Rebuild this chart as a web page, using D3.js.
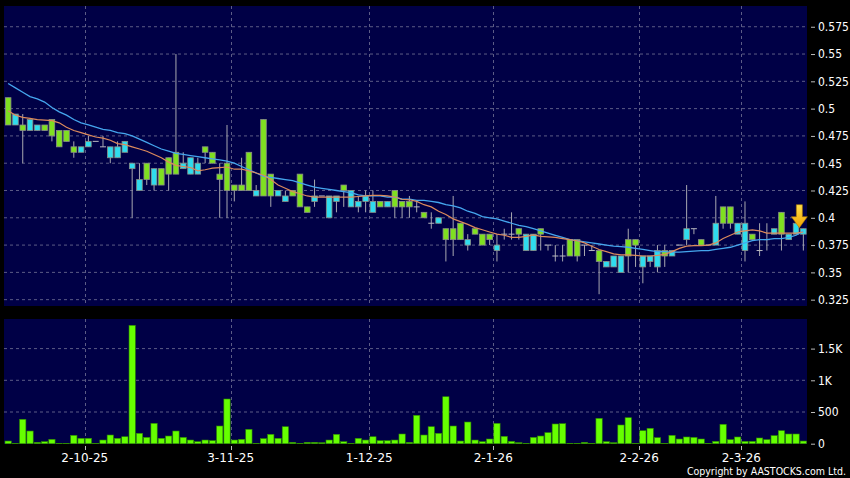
<!DOCTYPE html>
<html>
<head>
<meta charset="utf-8">
<script src="https://cdnjs.cloudflare.com/ajax/libs/d3/7.8.5/d3.min.js"></script>
<style>
body { margin: 0; background: #000; }
text { font-family: 'DejaVu Sans Condensed', 'DejaVu Sans', sans-serif; fill: #fff; }
</style>
</head>
<body>
<script>

// daily candles, oldest first
var opens = [.485,.495,.48,.49,.485,.48,.475,.465,.47,.46,.465,.47,.47,.465,.465,.465,.47,.45,.435,.435,
  .445,.43,.44,.44,.45,.455,.45,.46,.45,.435,.425,.425,.425,.425,.425,.42,.42,.425,.42,.42,
  .41,.405,.42,.42,.42,.42,.425,.425,.415,.42,.415,.41,.415,.41,.41,.41,.41,.40,.395,.40,
  .38,.38,.38,.38,.385,.375,.38,.375,.385,.385,.385,.385,.385,.385,.375,.365,.365,.365,.365,.375,
  .37,.36,.36,.365,.365,.365,.375,.365,.365,.37,.365,.37,.375,.39,.39,.375,.375,.395,.395,.395,
  .395,.395,.38,.37,.38,.39,.385,.385,.395,.39];
var highs = [.51,.495,.495,.49,.485,.485,.49,.48,.48,.47,.465,.475,.47,.475,.465,.47,.47,.45,.45,.45,
  .445,.445,.455,.55,.46,.455,.455,.465,.46,.45,.485,.43,.455,.46,.43,.49,.44,.425,.425,.425,
  .44,.41,.435,.42,.42,.42,.43,.425,.42,.425,.425,.415,.415,.425,.415,.42,.415,.405,.405,.40,
  .39,.42,.395,.385,.39,.385,.385,.385,.39,.405,.39,.385,.385,.39,.375,.375,.375,.38,.38,.375,
  .375,.37,.36,.365,.365,.39,.38,.365,.365,.375,.375,.37,.375,.43,.39,.38,.375,.42,.41,.41,
  .395,.415,.385,.395,.395,.39,.405,.385,.395,.39];
var lows = [.485,.485,.45,.48,.48,.48,.47,.465,.47,.455,.46,.465,.47,.465,.45,.455,.46,.40,.425,.43,
  .425,.43,.425,.44,.445,.44,.44,.45,.45,.40,.40,.415,.425,.425,.42,.42,.41,.42,.415,.42,
  .41,.405,.41,.42,.40,.405,.41,.41,.405,.405,.405,.41,.41,.40,.40,.40,.405,.40,.39,.395,
  .36,.365,.38,.37,.385,.375,.375,.36,.38,.38,.38,.37,.37,.37,.37,.36,.36,.365,.36,.365,
  .37,.33,.355,.355,.35,.35,.355,.34,.355,.35,.355,.365,.375,.375,.385,.375,.375,.375,.39,.39,
  .385,.36,.38,.365,.37,.385,.37,.38,.385,.37];
var closes = [.51,.485,.485,.48,.48,.485,.49,.48,.48,.465,.46,.465,.47,.465,.455,.455,.46,.445,.425,.45,
  .43,.445,.455,.46,.445,.44,.44,.465,.46,.44,.45,.43,.43,.46,.42,.49,.44,.42,.415,.425,
  .44,.41,.415,.42,.40,.415,.43,.41,.41,.415,.405,.415,.41,.425,.415,.415,.41,.405,.395,.395,
  .39,.39,.395,.375,.39,.385,.385,.37,.385,.385,.39,.37,.37,.39,.375,.365,.365,.38,.38,.375,
  .37,.37,.355,.355,.35,.38,.38,.355,.36,.355,.37,.365,.375,.38,.39,.38,.375,.375,.41,.41,
  .385,.37,.385,.37,.38,.385,.405,.38,.385,.385];

// volume in thousands of shares
var volumes = [42,5,385,200,22,32,69,3,3,132,85,85,5,58,137,85,110,1867,164,100,
  321,85,121,200,100,58,32,58,48,279,705,58,69,227,5,80,148,85,268,22,
  5,22,22,16,58,148,32,5,85,58,110,48,48,58,153,22,448,137,268,164,
  741,279,42,342,58,32,74,321,116,37,16,5,100,121,174,311,316,3,3,22,
  5,400,32,16,295,410,3,205,243,95,3,132,74,106,100,74,3,37,306,64,
  106,37,37,90,64,127,205,153,153,42];

// moving averages
var maShort = [.498,.494,.492,.491,.490,.4895,.489,.487,.483,.480,.478,.476,.474,.473,.471,.468,.467,.465,.463,.461,
  .458,.455,.451,.448,.447,.446,.443,.444,.4455,.446,.4465,.4445,.4445,.443,.441,.439,.435,.430,.427,.424,
  .422,.420,.419,.419,.419,.419,.419,.419,.4195,.420,.4205,.4205,.420,.419,.417,.4165,.415,.412,.410,.406,
  .403,.399,.3965,.394,.391,.389,.387,.385,.384,.382,.382,.383,.3843,.383,.3825,.382,.381,.380,.379,.377,
  .374,.371,.369,.367,.366,.366,.3655,.365,.365,.3655,.3665,.369,.372,.374,.3745,.3745,.375,.377,.381,.384,
  .387,.388,.389,.388,.386,.386,.386,.386,.386,.387];
var maLong = [.523,.519,.515,.511,.509,.506,.501,.497,.494,.490,.487,.485,.483,.481,.480,.478,.477,.475,.472,.469,
  .466,.463,.461,.459,.458,.457,.456,.455,.454,.453,.452,.450,.447,.444,.441,.438,.437,.436,.435,.434,
  .432,.430,.428,.427,.426,.425,.424,.423,.421,.420,.420,.420,.419,.419,.417,.417,.416,.416,.415,.414,
  .412,.411,.409,.406,.404,.401,.400,.399,.397,.395,.393,.392,.390,.388,.386,.384,.382,.380,.379,.378,
  .377,.376,.375,.374,.3735,.373,.372,.371,.370,.369,.369,.3685,.3685,.369,.3695,.370,.370,.371,.372,.373,
  .375,.377,.379,.380,.380,.381,.381,.382,.384,.388];

var priceTicks = [0.325,0.35,0.375,0.4,0.425,0.45,0.475,0.5,0.525,0.55,0.575];
var volTicks = [0,500,1000,1500];
var volLabels = ['0','500','1K','1.5K'];
// first bar of each labelled month
var dateIdx = [11,31,50,67,87,101];
var dateLabels = ['2-10-25','3-11-25','1-12-25','2-1-26','2-2-26','2-3-26'];

var navy = '#000046';
var gridColor = '#5c5c86';
var upColor = '#7fe020';
var downColor = '#2fdcee';

var svg = d3.select('body').append('svg')
    .attr('width', 850)
    .attr('height', 478);

var x = d3.scaleBand()
    .domain(d3.range(closes.length))
    .range([4.5, 807]);
var step = x.step();
function cx(i) { return x(i) + step / 2; }

var y = d3.scaleLinear().domain([0.3192, 0.594]).range([306, 6]);
var yv = d3.scaleLinear().domain([0, 1967]).range([443.7, 319]);

// panels
svg.append('rect')
    .attr('x', 4).attr('y', 6)
    .attr('width', 803).attr('height', 300)
    .attr('fill', navy);
svg.append('rect')
    .attr('x', 4).attr('y', 319)
    .attr('width', 803).attr('height', 125)
    .attr('fill', navy);

// horizontal grid
svg.selectAll('.pgrid').data(priceTicks).enter().append('line')
    .attr('x1', 4).attr('x2', 807)
    .attr('y1', function(d){ return y(d); })
    .attr('y2', function(d){ return y(d); })
    .attr('stroke', gridColor)
    .attr('stroke-dasharray', '3,3');
svg.selectAll('.vgrid').data(volTicks.slice(1)).enter().append('line')
    .attr('x1', 4).attr('x2', 807)
    .attr('y1', function(d){ return yv(d); })
    .attr('y2', function(d){ return yv(d); })
    .attr('stroke', gridColor)
    .attr('stroke-dasharray', '3,3');

// vertical grid at month starts, both panels
dateIdx.forEach(function(i){
    var gx = Math.round(x(i)) + 0.5;
    svg.append('line')
        .attr('x1', gx).attr('x2', gx)
        .attr('y1', 6).attr('y2', 306)
        .attr('stroke', gridColor)
        .attr('stroke-dasharray', '3,3');
    svg.append('line')
        .attr('x1', gx).attr('x2', gx)
        .attr('y1', 319).attr('y2', 444)
        .attr('stroke', gridColor)
        .attr('stroke-dasharray', '3,3');
    // tick under volume panel
    svg.append('line')
        .attr('x1', gx).attr('x2', gx)
        .attr('y1', 446).attr('y2', 450)
        .attr('stroke', '#bbb');
});

svg.selectAll('.dlabel').data(dateLabels).enter().append('text')
    .attr('x', function(d, k){ return x(dateIdx[k]); })
    .attr('y', 462)
    .attr('text-anchor', 'middle')
    .attr('font-size', 12)
    .style('font-family', "'DejaVu Sans', sans-serif")
    .text(function(d){ return d; });

// right axes
var pAxis = svg.append('g')
    .attr('transform', 'translate(811,0)')
    .call(d3.axisRight(y).tickValues(priceTicks).tickSize(4).tickPadding(3)
        .tickFormat(function(d){ return String(+d.toFixed(3)); }));
var vAxis = svg.append('g')
    .attr('transform', 'translate(811,0)')
    .call(d3.axisRight(yv).tickValues(volTicks).tickSize(4).tickPadding(3)
        .tickFormat(function(d, k){ return volLabels[k]; }));
[pAxis, vAxis].forEach(function(g){
    g.select('.domain').remove();
    g.selectAll('line').attr('stroke', '#bbb');
    g.selectAll('text')
        .attr('fill', '#fff')
        .attr('font-size', 12)
        .attr('font-family', "'DejaVu Sans Condensed', 'DejaVu Sans', sans-serif");
});

// volume bars
svg.selectAll('.vol').data(volumes).enter().append('rect')
    .attr('x', function(d, i){ return x(i) + 0.5; })
    .attr('y', function(d){ return yv(d); })
    .attr('width', step - 1)
    .attr('height', function(d){ return yv(0) - yv(d); })
    .attr('fill', '#66ff00')
    .attr('stroke', '#2e8a00')
    .attr('stroke-width', 0.6);

// wicks
svg.selectAll('.wick').data(closes).enter().append('line')
    .attr('x1', function(d, i){ return cx(i); })
    .attr('x2', function(d, i){ return cx(i); })
    .attr('y1', function(d, i){ return y(highs[i]); })
    .attr('y2', function(d, i){ return y(lows[i]); })
    .attr('stroke', '#a8a8b0');

// bodies (flat ones are a dash)
closes.forEach(function(c, i){
    var o = opens[i];
    if (o == c) {
        svg.append('line')
            .attr('x1', cx(i) - 3).attr('x2', cx(i) + 3)
            .attr('y1', y(c)).attr('y2', y(c))
            .attr('stroke', '#b8b8c0');
    } else {
        svg.append('rect')
            .attr('x', cx(i) - 2.8)
            .attr('y', y(Math.max(o, c)))
            .attr('width', 5.6)
            .attr('height', Math.abs(y(o) - y(c)))
            .attr('fill', c > o ? upColor : downColor)
            .attr('stroke', '#8a8f86')
            .attr('stroke-width', 0.8);
    }
});

// moving averages
var line = d3.line()
    .x(function(d, i){ return cx(i); })
    .y(function(d){ return y(d); });
svg.append('path')
    .attr('d', line(maLong))
    .attr('fill', 'none')
    .attr('stroke', '#45a6ee')
    .attr('stroke-width', 1.3);
svg.append('path')
    .attr('d', line(maShort))
    .attr('fill', 'none')
    .attr('stroke', '#dc8a5c')
    .attr('stroke-width', 1.2);

// yellow marker over the last bar
var grad = svg.append('defs').append('linearGradient')
    .attr('id', 'gold')
    .attr('x1', 0).attr('x2', 0).attr('y1', 0).attr('y2', 1);
grad.append('stop').attr('offset', '0%').attr('stop-color', '#ffe04a');
grad.append('stop').attr('offset', '100%').attr('stop-color', '#f0a000');
var last = closes.length - 1;
var ax = cx(last) - 4;
var ay = y(highs[last]) - 24;
svg.append('path')
    .attr('d', 'M' + (ax - 3) + ',' + ay + 'h6v12h5l-8,11l-8,-11h5z')
    .attr('fill', 'url(#gold)')
    .attr('stroke', '#b07800')
    .attr('stroke-width', 0.6);

svg.append('text')
    .attr('x', 846)
    .attr('y', 475)
    .attr('text-anchor', 'end')
    .attr('font-size', 10.5)
    .text('Copyright by AASTOCKS.com Ltd.');

</script>
</body>
</html>
